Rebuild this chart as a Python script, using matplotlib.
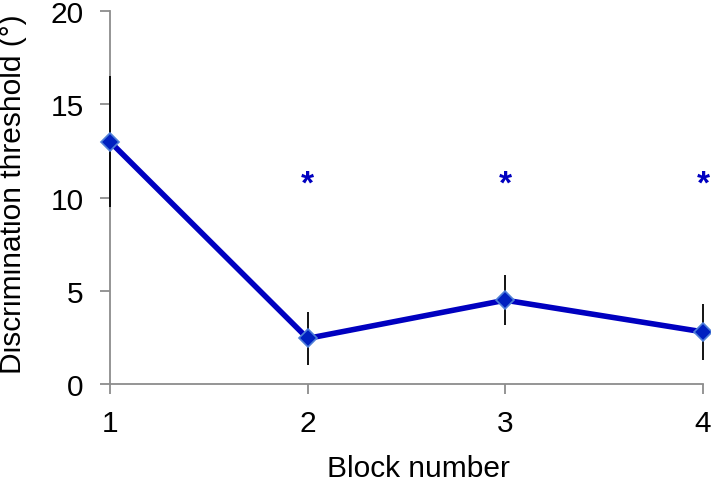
import matplotlib
matplotlib.use("Agg")
import matplotlib.pyplot as plt

plt.rcParams["font.family"] = ["Liberation Sans", "DejaVu Sans"]

blocks = [1, 2, 3, 4]
threshold = [13.0, 2.45, 4.5, 2.8]
sem = [3.5, 1.4, 1.35, 1.5]
sig_blocks = [2, 3, 4]
sig_y = [10.7, 10.7, 10.7]

fig = plt.figure(figsize=(7.11, 4.85), dpi=100)
ax = fig.add_axes([0.1547, 0.206, 0.834, 0.769])

ax.errorbar(blocks, threshold, yerr=sem, fmt="none", ecolor="black",
            elinewidth=1.3, capsize=0, zorder=3, clip_on=False)
ax.plot(blocks, threshold, color="#0000C0", lw=4, marker="D", ms=9.5,
        mfc="#0020C0", mec="#4F7FD8", mew=1.2, zorder=4, clip_on=False)
for x, y in zip(sig_blocks, sig_y):
    ax.text(x, y, "*", color="#0000C0", fontsize=24, fontweight="bold",
            ha="center", va="center")

ax.set_xlim(1, 4)
ax.set_ylim(0, 20)
ax.set_xticks(blocks)
ax.set_yticks([0, 5, 10, 15, 20])
for s in ["top", "right"]:
    ax.spines[s].set_visible(False)
for s in ["left", "bottom"]:
    ax.spines[s].set_color("#8c8c8c")
    ax.spines[s].set_linewidth(1.3)
ax.tick_params(colors="#8c8c8c", labelcolor="black", labelsize=21.5,
               length=7, width=1.3)
ax.tick_params(axis="y", pad=12)
ax.tick_params(axis="x", pad=11)

# axis titles placed like in the original figure
fig.text(0.589, 0.032, "Block number", fontsize=21.5, ha="center", va="center")
fig.text(0.018, 0.6, "Discrimination threshold (°)", fontsize=21.5,
         rotation=90, ha="center", va="center")

fig.savefig("out.png", dpi=100)
